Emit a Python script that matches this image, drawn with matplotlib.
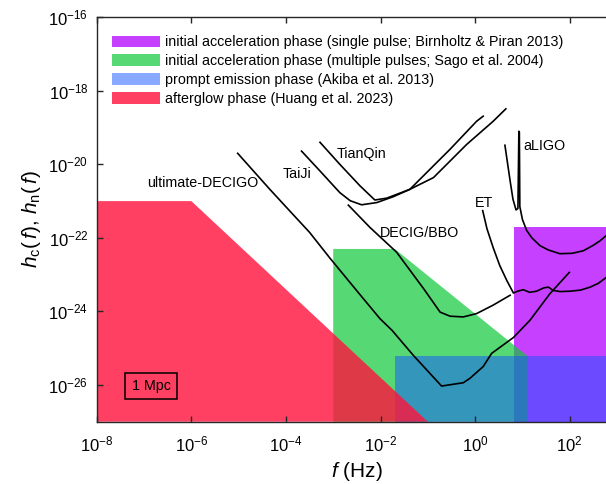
import numpy as np
import matplotlib
matplotlib.use("Agg")
import matplotlib.pyplot as plt
from matplotlib.patches import Patch, Rectangle

plt.rcParams['font.family'] = ['Liberation Sans', 'DejaVu Sans']
plt.rcParams['mathtext.fontset'] = 'custom'
plt.rcParams['mathtext.rm'] = 'Liberation Sans'
plt.rcParams['mathtext.it'] = 'Liberation Sans:italic'
plt.rcParams['mathtext.bf'] = 'Liberation Sans:bold'
plt.rcParams['axes.unicode_minus'] = False

# ---------------- data (log10 f [Hz], log10 h) ----------------
ultimate_decigo_logf = [-5.02, -4.34, -3.91, -3.5, -3.07, -2.43, -2.01, -1.76, -1.31, -0.71,
                        -0.25, -0.11, 0.17, 0.35, 0.81, 1.16, 1.58, 1.99]
ultimate_decigo_logh = [-19.70, -20.68, -21.28, -21.85, -22.55, -23.55, -24.20, -24.51, -25.19,
                        -26.03, -25.94, -25.82, -25.50, -25.14, -24.71, -24.24, -23.52, -22.94]

decigo_bbo_logf = [-2.68, -2.22, -1.66, -1.09, -0.74, -0.53, -0.25, 0.03, 0.38, 0.74]
decigo_bbo_logh = [-21.11, -21.72, -22.39, -23.38, -24.02, -24.13, -24.15, -24.06, -23.83, -23.56]

taiji_logf = [-3.67, -3.28, -2.86, -2.64, -2.40, -2.08, -1.73, -1.38, -0.53, 0.03, 0.17]
taiji_logh = [-19.64, -20.18, -20.77, -20.99, -21.10, -21.04, -20.88, -20.68, -19.59, -18.83, -18.69]

tianqin_logf = [-3.28, -2.86, -2.43, -2.12, -1.87, -1.38, -0.88, -0.53, -0.18, 0.38, 0.65]
tianqin_logh = [-19.40, -20.00, -20.59, -20.97, -20.92, -20.68, -20.36, -19.91, -19.46, -18.83, -18.49]

et_logf = [0.16, 0.25, 0.38, 0.52, 0.67, 0.81, 0.90, 1.02, 1.15, 1.30, 1.45, 1.55, 1.65,
           1.80, 2.01, 2.23, 2.43, 2.60, 2.77]
et_logh = [-21.26, -21.75, -22.26, -22.75, -23.16, -23.50, -23.45, -23.41, -23.48, -23.45,
           -23.36, -23.34, -23.43, -23.46, -23.45, -23.42, -23.34, -23.24, -23.08]

aligo_logf = [0.63, 0.74, 0.80, 0.865, 0.905, 0.925, 0.935, 0.945, 1.00, 1.09, 1.20, 1.37,
              1.55, 1.79, 2.05, 2.29, 2.50, 2.64, 2.77]
aligo_logh = [-19.48, -20.45, -20.95, -21.24, -21.20, -19.10, -19.12, -21.15, -21.50, -21.80,
              -22.00, -22.21, -22.33, -22.43, -22.42, -22.35, -22.20, -22.08, -21.94]

# signal regions (corner values)
h_floor = 1e-27
single_pulse_f = [6.6, 1e3]
single_pulse_h = [2e-22, 2e-22]
multi_pulse_f = [1e-3, 2.0e-2, 13.0, 13.0]
multi_pulse_h = [5e-23, 5e-23, 6e-26, h_floor]
prompt_f = [2.0e-2, 1e3]
prompt_h = [6e-26, 6e-26]
afterglow_f = [1e-8, 1e-6, 1e-1]
afterglow_h = [1e-21, 1e-21, h_floor]

legend_labels = [
    'initial acceleration phase (single pulse; Birnholtz & Piran 2013)',
    'initial acceleration phase (multiple pulses; Sago et al. 2004)',
    'prompt emission phase (Akiba et al. 2013)',
    'afterglow phase (Huang et al. 2023)',
]
colors = [(0.70, 0.0, 1.0), (0.06, 0.79, 0.23), (0.07, 0.33, 1.0), (1.0, 0.08, 0.24)]
alphas = [0.75, 0.70, 0.50, 0.81]

curve_labels = [('ultimate-DECIGO', 1.15e-7, 3.16e-21),
                ('TaiJi', 8.7e-5, 5.5e-21),
                ('TianQin', 1.17e-3, 1.86e-20),
                ('DECIG/BBO', 9.8e-3, 1.32e-22),
                ('ET', 1.0, 9.1e-22),
                ('aLIGO', 10.3, 3.2e-20)]

# ---------------- figure ----------------
fig = plt.figure(figsize=(6.06, 4.84), dpi=100)
ax = fig.add_axes([0.1596, 0.1287, 0.8586, 0.8356])
ax.set_xscale('log')
ax.set_yscale('log')
ax.set_xlim(1e-8, 1e3)
ax.set_ylim(1e-27, 1e-16)

# purple
ax.fill_between(single_pulse_f, single_pulse_h, h_floor, color=colors[0], alpha=alphas[0], lw=0)
# green
ax.fill(multi_pulse_f[:1] + multi_pulse_f + [multi_pulse_f[0]],
        [h_floor] + multi_pulse_h + [h_floor], color=colors[1], alpha=alphas[1], lw=0)
# blue
ax.fill_between(prompt_f, prompt_h, h_floor, color=colors[2], alpha=alphas[2], lw=0)
# red
ax.fill(afterglow_f + [afterglow_f[0]], afterglow_h + [h_floor],
        color=colors[3], alpha=alphas[3], lw=0)

lw = 1.2
for lf, lh in [(ultimate_decigo_logf, ultimate_decigo_logh),
               (decigo_bbo_logf, decigo_bbo_logh),
               (taiji_logf, taiji_logh),
               (tianqin_logf, tianqin_logh),
               (et_logf, et_logh),
               (aligo_logf, aligo_logh)]:
    ax.plot(10 ** np.array(lf), 10 ** np.array(lh), color='k', lw=lw, zorder=5)

for name, x, y in curve_labels:
    ax.text(x, y, name, fontsize=10.3, ha='left', va='center', zorder=6)

# 1 Mpc box
ax.add_patch(Rectangle((0.0544, 0.0554), 0.1005, 0.0658, transform=ax.transAxes,
                       fill=False, ec='k', lw=1.1, zorder=6))
ax.text(0.0544 + 0.1005 / 2, 0.0554 + 0.0658 / 2, '1 Mpc', transform=ax.transAxes,
        ha='center', va='center', fontsize=10.3, zorder=6)

handles = [Patch(facecolor=c, alpha=a, edgecolor='none') for c, a in zip(colors, alphas)]
leg = ax.legend(handles, legend_labels, loc='upper left', bbox_to_anchor=(0.030, 0.955),
                frameon=False, fontsize=10.3, handlelength=3.35, handleheight=0.88,
                handletextpad=0.33, labelspacing=0.33, borderaxespad=0, borderpad=0)

ax.set_xticks([1e-8, 1e-6, 1e-4, 1e-2, 1e0, 1e2])
ax.set_yticks([1e-26, 1e-24, 1e-22, 1e-20, 1e-18, 1e-16])
ax.minorticks_off()
ax.tick_params(which='both', direction='in', length=4.3, width=1.0, color='#262626',
               labelsize=12, top=True, right=True)
ax.tick_params(axis='x', pad=9)
ax.tick_params(axis='y', pad=6)
for s in ax.spines.values():
    s.set_linewidth(1.0)
    s.set_color('#262626')

ax.set_xlabel(r'$f$ (Hz)', fontsize=15, labelpad=4)
ax.set_ylabel(r'$h_{\mathrm{c}}(\,f),\,h_{\mathrm{n}}(\,f)$', fontsize=15, labelpad=4)

fig.savefig('out.png', dpi=100)
